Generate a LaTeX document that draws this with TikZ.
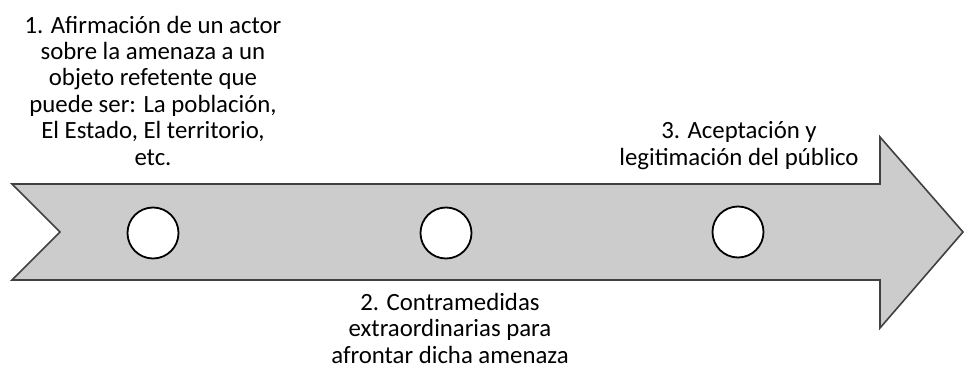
\documentclass[tikz,border=0pt]{standalone}
\usepackage{fontspec}
\setmainfont{Carlito}
\begin{document}
\begin{tikzpicture}[x=0.5pt,y=-0.5pt]
			\useasboundingbox (0,0) rectangle (964,369);
			
			\path[draw=black!75, fill=black!20, line width=0.8pt] 
				(12,184) -- (880,184) -- (880,137) -- (963,232) -- (880,328) 
				-- (880,280) -- (12,280) -- (60,232) -- cycle;
			
			\node (c1)[shape=circle, draw, fill=white, line width=0.9pt, minimum size=25.5pt, inner sep=0pt] 
			at (153,233) {};
			\node (c2)[shape=circle, draw, fill=white, line width=0.9pt, minimum size=25.5pt, inner sep=0pt] 
			at (446,233) {};
			\node (c3)[shape=circle, draw, fill=white, line width=0.9pt, minimum size=25.5pt, inner sep=0pt] 
			at (738,232) {};
			
			\node (t1)[align=center, anchor=base, font=\fontsize{12.4}{13.2}\selectfont] 
			at (153,165){
				1. Afirmación de un actor \\
				sobre la amenaza a un \\
				objeto refetente que \\
				puede ser: La población, \\
				El Estado, El territorio, \\
				etc.
			};
			
			\node (t2)[align=center, anchor=base, font=\fontsize{12.4}{13.2}\selectfont] 
			at (450,363){
				2. Contramedidas \\
				extraordinarias para \\
				afrontar dicha amenaza
			};
			
			\node (t3)[align=center, anchor=base, font=\fontsize{12.4}{13.2}\selectfont] 
			at (739,165){
				3. Aceptación y \\
				legitimación del público
			};
		\end{tikzpicture}
\end{document}
